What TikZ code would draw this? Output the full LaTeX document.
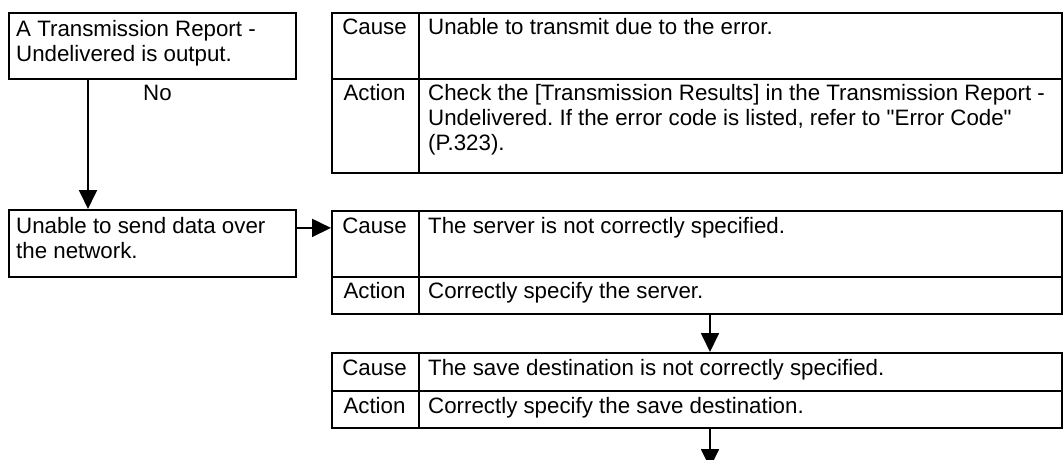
\documentclass[tikz,border=0pt]{standalone}
\usepackage{fontspec}
\setmainfont{Liberation Sans}
\usetikzlibrary{positioning,arrows.meta}
\frenchspacing

\begin{document}
\begin{tikzpicture}[x=1pt,y=-1pt,
  box/.style={draw,line width=1.8pt,minimum width=287pt,anchor=north west,inner sep=0pt},
  lblcell/.style={draw,line width=1.6pt,minimum width=87pt,anchor=north west,inner sep=0pt},
  txtcell/.style={draw,line width=1.6pt,minimum width=643pt,anchor=north west,inner sep=0pt},
  txt/.style={anchor=base west,inner sep=0pt,align=left},
  lbl/.style={anchor=base,inner sep=0pt},
  arr/.style={line width=1.8pt,-{Triangle[length=19pt,width=18pt]}},
  every node/.style={font=\fontsize{22.3}{25}\selectfont}]
\useasboundingbox (0,0) rectangle (1063,460);
% left column (base = last line)
\node[box,minimum height=66pt] (report) at (8,12) {};
\node[txt] (reporttxt) at (16,62) {A Transmission Report -\\Undelivered is output.};
\node[box,minimum height=67pt] (unable) at (8,209) {};
\node[txt] (unabletxt) at (16,258) {Unable to send data over\\the network.};
\node[txt] (no) at (143,100) {No};
\coordinate (dropx) at (88,0);
\draw[arr] (report.south -| dropx) -- (unable.north -| dropx);

% first table
\node[lblcell,minimum height=66pt] (causeA) at (331,12) {};
\node[txtcell,minimum height=66pt] (causeAtxt) at (418,12) {};
\node[lblcell,minimum height=94pt] (actionA) at (331,78) {};
\node[txtcell,minimum height=94pt] (actionAtxt) at (418,78) {};
\node[lbl] at (374.5,35) {Cause};
\node[txt] at (428,35) {Unable to transmit due to the error.};
\node[lbl] at (374.5,100) {Action};
\node[txt] at (428,150) {Check the [Transmission Results] in the Transmission Report -\\
  Undelivered. If the error code is listed, refer to \textquotedbl Error Code\textquotedbl\\(P.323).};

% second table
\node[lblcell,minimum height=66pt] (causeB) at (331,210) {};
\node[txtcell,minimum height=66pt] (causeBtxt) at (418,210) {};
\node[lblcell,minimum height=37pt] (actionB) at (331,276) {};
\node[txtcell,minimum height=37pt] (actionBtxt) at (418,276) {};
\node[lbl] at (374.5,233) {Cause};
\node[txt] at (428,233) {The server is not correctly specified.};
\node[lbl] at (374.5,298) {Action};
\node[txt] at (428,298) {Correctly specify the server.};

% third table
\node[lblcell,minimum height=38pt] (causeC) at (331,352) {};
\node[txtcell,minimum height=38pt] (causeCtxt) at (418,352) {};
\node[lblcell,minimum height=37pt] (actionC) at (331,390) {};
\node[txtcell,minimum height=37pt] (actionCtxt) at (418,390) {};
\node[lbl] at (374.5,375) {Cause};
\node[txt] at (428,375) {The save destination is not correctly specified.};
\node[lbl] at (374.5,413) {Action};
\node[txt] at (428,413) {Correctly specify the save destination.};

% connectors
\coordinate (nextx) at (710,0);
\coordinate (offpage) at (710,468);
\draw[arr] ([yshift=15.5pt]unable.east) -- ([yshift=15.5pt]unable.east -| causeB.west);
\draw[arr] (actionBtxt.south -| nextx) -- (causeCtxt.north -| nextx);
\draw[arr] (actionCtxt.south -| nextx) -- (offpage);
\end{tikzpicture}
\end{document}
